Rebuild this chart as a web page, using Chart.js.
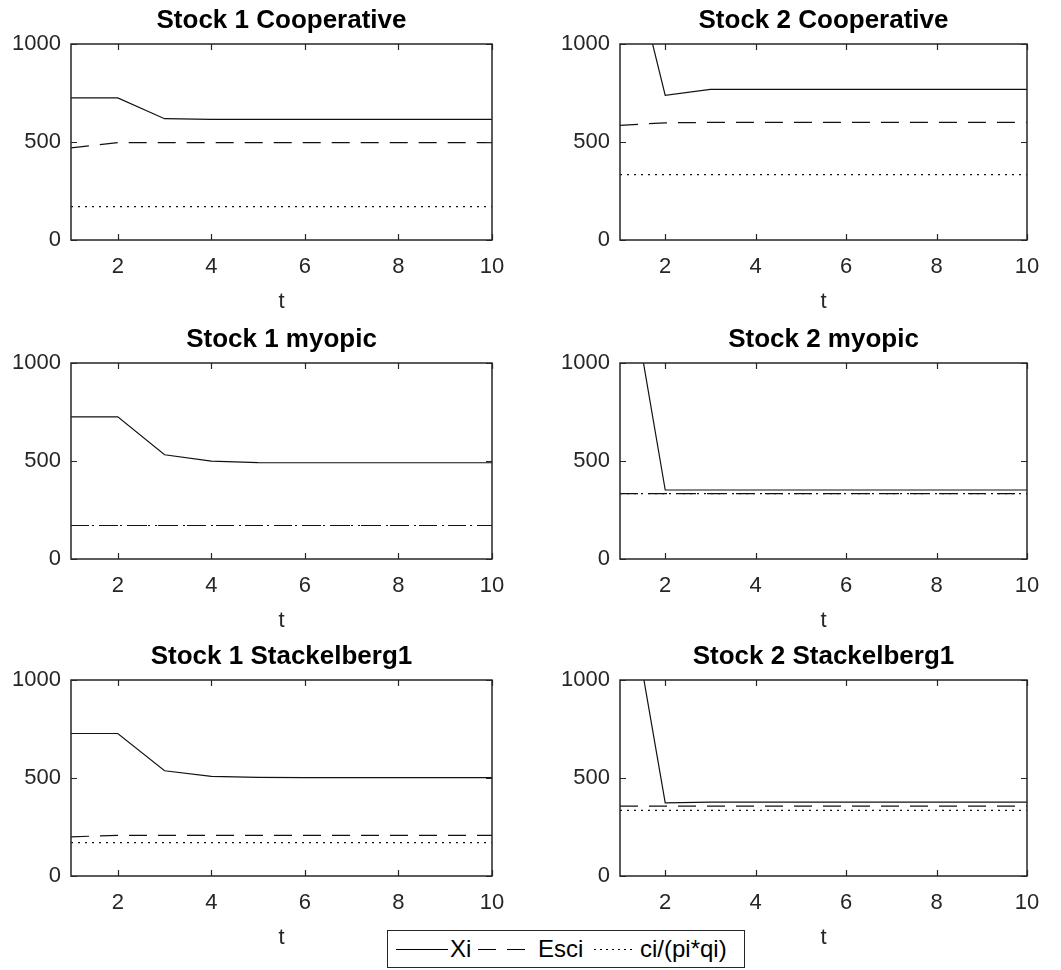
<!DOCTYPE html>
<html lang="en">
<head>
    <meta charset="UTF-8">
    <title>Stock paths</title>
    <script src="https://cdn.jsdelivr.net/npm/chart.js@4.4.0/dist/chart.umd.min.js"></script>
    <style>
        * { box-sizing: border-box; }
        body { margin: 0; background: #fff; font-family: "Liberation Sans", Arial, sans-serif; }
        #page { position: relative; width: 1061px; height: 970px; overflow: hidden; }
        canvas { position: absolute; }

        .legend {
            position: absolute;
            left: 387px; top: 930px;
            width: 358px; height: 38px;
            border: 1px solid #262626;
            background: #fff;
            font-size: 24px;
            color: #000;
        }
        .legend span { position: absolute; }
        .legend .txt { top: 4px; line-height: 28px; }
        .legend .sw { top: 18px; height: 1px; }
        .sw.solid { background: #000; }
        .sw.dash { background: repeating-linear-gradient(to right, #000 0 18px, transparent 18px 29px); }
        .sw.dot { background: repeating-linear-gradient(to right, #000 0 2px, transparent 2px 6px); }
    </style>
</head>
<body>
<div id="page">
    <canvas id="s1coop" width="520" height="320" style="left:0;top:0"></canvas>
    <canvas id="s2coop" width="541" height="320" style="left:520px;top:0"></canvas>
    <canvas id="s1myo" width="520" height="320" style="left:0;top:319px"></canvas>
    <canvas id="s2myo" width="541" height="320" style="left:520px;top:319px"></canvas>
    <canvas id="s1stk" width="520" height="320" style="left:0;top:636px"></canvas>
    <canvas id="s2stk" width="541" height="320" style="left:520px;top:636px"></canvas>

    <div class="legend">
        <span class="sw solid" style="left:8px;width:52px"></span>
        <span class="txt" style="left:62px">Xi</span>
        <span class="sw dash" style="left:90px;width:47px"></span>
        <span class="txt" style="left:150px">Esci</span>
        <span class="sw dot" style="left:206px;width:38px"></span>
        <span class="txt" style="left:252px">ci/(pi*qi)</span>
    </div>
</div>

<script>
    // time axis + tick labels
    const t = [1, 2, 3, 4, 5, 6, 7, 8, 9, 10];
    const xTicks = [2, 4, 6, 8, 10];
    const yTicks = [0, 500, 1000];

    // Stock 1 Cooperative
    const s1CoopXi   = [725, 725, 619, 615, 615, 615, 615, 615, 615, 615];
    const s1CoopEsci = [470, 497, 497, 497, 497, 497, 497, 497, 497, 497];
    const s1CoopC    = [170, 170, 170, 170, 170, 170, 170, 170, 170, 170];

    // Stock 2 Cooperative
    const s2CoopXi   = [1675, 738, 768, 768, 768, 768, 768, 768, 768, 768];
    const s2CoopEsci = [585, 598, 600, 600, 600, 600, 600, 600, 600, 600];
    const s2CoopC    = [334, 334, 334, 334, 334, 334, 334, 334, 334, 334];

    // Stock 1 myopic
    const s1MyoXi   = [725, 725, 532, 499, 492, 491, 491, 491, 491, 491];
    const s1MyoEsci = [171, 171, 171, 171, 171, 171, 171, 171, 171, 171];
    const s1MyoC    = [171, 171, 171, 171, 171, 171, 171, 171, 171, 171];

    // Stock 2 myopic
    const s2MyoXi   = [1700, 352, 352, 352, 352, 352, 352, 352, 352, 352];
    const s2MyoEsci = [334, 334, 334, 334, 334, 334, 334, 334, 334, 334];
    const s2MyoC    = [334, 334, 334, 334, 334, 334, 334, 334, 334, 334];

    // Stock 1 Stackelberg1
    const s1StkXi   = [727, 727, 537, 508, 503, 502, 502, 502, 502, 502];
    const s1StkEsci = [200, 207, 207, 207, 207, 207, 207, 207, 207, 207];
    const s1StkC    = [170, 170, 170, 170, 170, 170, 170, 170, 170, 170];

    // Stock 2 Stackelberg1
    const s2StkXi   = [1705, 373, 377, 377, 377, 377, 377, 377, 377, 377];
    const s2StkEsci = [356, 356, 356, 356, 356, 356, 356, 356, 356, 356];
    const s2StkC    = [335, 335, 335, 335, 335, 335, 335, 335, 335, 335];

    const FONT = '"Liberation Sans", Arial, sans-serif';
    const AXIS = '#262626';

    function pts(arr) {
        return arr.map((v, i) => ({ x: t[i], y: v }));
    }

    function setTicks(list) {
        return scale => { scale.ticks = list.map(v => ({ value: v })); };
    }

    // matlab style box with inward ticks on all four sides
    const boxTicks = {
        id: "boxTicks",
        afterDatasetsDraw(chart) {
            const { ctx, chartArea: a, scales } = chart;
            ctx.save();
            ctx.strokeStyle = AXIS;
            ctx.lineWidth = 1.2;
            ctx.beginPath();
            xTicks.forEach(v => {
                const px = Math.round(scales.x.getPixelForValue(v)) + 0.5;
                ctx.moveTo(px, a.bottom); ctx.lineTo(px, a.bottom - 6);
                ctx.moveTo(px, a.top); ctx.lineTo(px, a.top + 6);
            });
            yTicks.forEach(v => {
                const py = Math.round(scales.y.getPixelForValue(v)) + 0.5;
                ctx.moveTo(a.left, py); ctx.lineTo(a.left + 6, py);
                ctx.moveTo(a.right, py); ctx.lineTo(a.right - 6, py);
            });
            ctx.stroke();
            ctx.lineWidth = 1.5;
            ctx.strokeRect(a.left, a.top, a.right - a.left, a.bottom - a.top);
            ctx.restore();
        }
    };

    function makeChart(id, title, xi, esci, c, yAxisWidth, padRight) {
        new Chart(document.getElementById(id), {
            type: "line",
            data: {
                datasets: [
                    { data: pts(xi), borderColor: "#111", borderWidth: 1.2 },
                    { data: pts(esci), borderColor: "#111", borderWidth: 1.2, borderDash: [18, 11] },
                    { data: pts(c), borderColor: "#111", borderWidth: 1.2, borderDash: [2, 5] }
                ]
            },
            options: {
                responsive: false,
                animation: false,
                events: [],
                layout: { padding: { left: 0, right: padRight, top: 0, bottom: 0 } },
                elements: { point: { radius: 0 }, line: { tension: 0, fill: false } },
                plugins: {
                    legend: { display: false },
                    tooltip: { enabled: false },
                    title: {
                        display: true,
                        text: title,
                        fullSize: false,
                        color: "#000",
                        font: { family: FONT, size: 26, weight: "bold", lineHeight: 1.2 },
                        padding: { top: 5, bottom: 7.8 }
                    }
                },
                scales: {
                    x: {
                        type: "linear", position: "bottom", min: 1, max: 10,
                        afterBuildTicks: setTicks(xTicks),
                        afterFit: s => { s.height = 80; },
                        grid: { display: false, drawTicks: false },
                        border: { display: false },
                        ticks: { color: AXIS, padding: 14, maxRotation: 0,
                                 font: { family: FONT, size: 22 }, callback: v => String(v) },
                        title: { display: true, text: "t", color: AXIS, padding: { top: 0, bottom: 5 },
                                 font: { family: FONT, size: 22, lineHeight: 1.2 } }
                    },
                    y: {
                        type: "linear", position: "left", min: 0, max: 1000,
                        afterBuildTicks: setTicks(yTicks),
                        afterFit: s => { s.width = yAxisWidth; },
                        grid: { display: false, drawTicks: false },
                        border: { display: false },
                        ticks: { color: AXIS, padding: 10,
                                 font: { family: FONT, size: 22 }, callback: v => String(v) }
                    }
                }
            },
            plugins: [boxTicks]
        });
    }

    makeChart("s1coop", "Stock 1 Cooperative", s1CoopXi, s1CoopEsci, s1CoopC, 71, 28);
    makeChart("s2coop", "Stock 2 Cooperative", s2CoopXi, s2CoopEsci, s2CoopC, 100, 34);
    makeChart("s1myo", "Stock 1 myopic", s1MyoXi, s1MyoEsci, s1MyoC, 71, 28);
    makeChart("s2myo", "Stock 2 myopic", s2MyoXi, s2MyoEsci, s2MyoC, 100, 34);
    makeChart("s1stk", "Stock 1 Stackelberg1", s1StkXi, s1StkEsci, s1StkC, 71, 28);
    makeChart("s2stk", "Stock 2 Stackelberg1", s2StkXi, s2StkEsci, s2StkC, 100, 34);
</script>
</body>
</html>
